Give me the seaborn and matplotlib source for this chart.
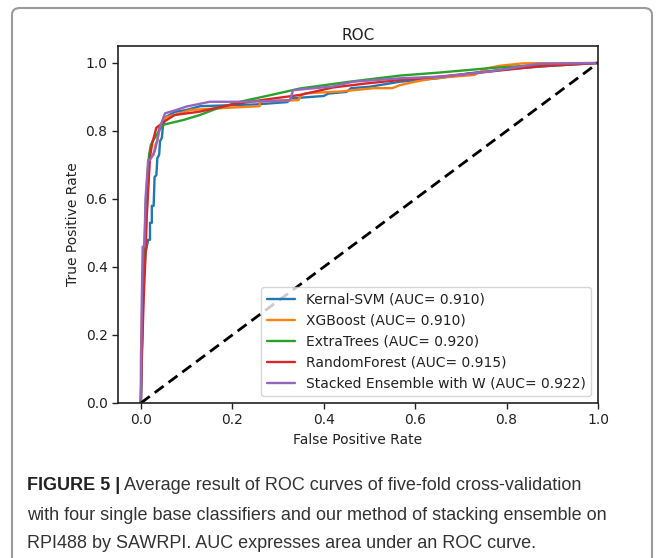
import numpy as np
import pandas as pd
import matplotlib
matplotlib.use("Agg")
import matplotlib.pyplot as plt
import seaborn as sns
from matplotlib.patches import FancyBboxPatch

# ---------------- data ----------------
models = ["Kernal-SVM", "XGBoost", "ExtraTrees", "RandomForest", "Stacked Ensemble with W"]
aucs = [0.910, 0.910, 0.920, 0.915, 0.922]
colors = ["#1f77b4", "#ff7f0e", "#2ca02c", "#d62728", "#9467bd"]

fpr_svm = [0, 0.002, 0.006, 0.010, 0.016, 0.020, 0.020, 0.024, 0.024, 0.028, 0.030, 0.034, 0.036,
           0.040, 0.042, 0.046, 0.048, 0.053, 0.074, 0.10, 0.13, 0.20, 0.25, 0.32, 0.33, 0.40,
           0.41, 0.45, 0.46, 0.50, 0.567, 0.65, 0.72, 0.82, 0.90, 1.0]
tpr_svm = [0, 0.15, 0.35, 0.44, 0.48, 0.48, 0.53, 0.53, 0.58, 0.58, 0.665, 0.67, 0.72,
           0.73, 0.77, 0.78, 0.81, 0.84, 0.856, 0.862, 0.873, 0.876, 0.878, 0.885, 0.896, 0.903,
           0.91, 0.915, 0.926, 0.93, 0.945, 0.955, 0.97, 0.984, 0.992, 1.0]

fpr_xgb = [0, 0, 0.001, 0.006, 0.010, 0.014, 0.018, 0.020, 0.028, 0.032, 0.036, 0.040, 0.045,
           0.055, 0.08, 0.11, 0.16, 0.20, 0.26, 0.26, 0.345, 0.35, 0.36, 0.435, 0.51, 0.55,
           0.567, 0.60, 0.64, 0.73, 0.756, 0.786, 0.836, 1.0]
tpr_xgb = [0, 0.12, 0.20, 0.43, 0.50, 0.60, 0.70, 0.72, 0.73, 0.76, 0.77, 0.81, 0.82,
           0.84, 0.85, 0.862, 0.866, 0.869, 0.873, 0.886, 0.891, 0.905, 0.911, 0.916, 0.926, 0.926,
           0.935, 0.945, 0.955, 0.965, 0.984, 0.992, 0.999, 1.0]

fpr_et = [0, 0.002, 0.006, 0.010, 0.014, 0.018, 0.022, 0.026, 0.035, 0.048, 0.092, 0.129,
          0.166, 0.217, 0.275, 0.348, 0.457, 0.567, 0.654, 0.764, 0.87, 1.0]
tpr_et = [0, 0.15, 0.40, 0.55, 0.66, 0.73, 0.76, 0.77, 0.79, 0.818, 0.832, 0.847,
          0.866, 0.886, 0.903, 0.925, 0.945, 0.963, 0.972, 0.985, 0.994, 1.0]

fpr_rf = [0, 0.002, 0.006, 0.010, 0.013, 0.016, 0.020, 0.025, 0.034, 0.056, 0.074, 0.129,
          0.20, 0.275, 0.348, 0.42, 0.494, 0.567, 0.654, 0.764, 0.87, 1.0]
tpr_rf = [0, 0.12, 0.30, 0.43, 0.55, 0.626, 0.724, 0.765, 0.81, 0.832, 0.847, 0.857,
          0.878, 0.893, 0.906, 0.928, 0.94, 0.95, 0.96, 0.975, 0.99, 1.0]

fpr_st = [0, 0.001, 0.002, 0.004, 0.008, 0.010, 0.016, 0.020, 0.024, 0.031, 0.036, 0.042,
          0.053, 0.078, 0.10, 0.151, 0.239, 0.326, 0.333, 0.42, 0.464, 0.567, 0.66, 0.764,
          0.87, 1.0]
tpr_st = [0, 0.15, 0.30, 0.46, 0.46, 0.597, 0.715, 0.715, 0.724, 0.744, 0.774, 0.813,
          0.852, 0.862, 0.872, 0.886, 0.886, 0.891, 0.92, 0.931, 0.945, 0.955, 0.96, 0.975,
          0.998, 1.0]

diag = [0.0, 1.0]

x_ticks = [0.0, 0.2, 0.4, 0.6, 0.8, 1.0]
y_ticks = [0.0, 0.2, 0.4, 0.6, 0.8, 1.0]

caption_bold = "FIGURE 5 |"
caption_lines = [
    " Average result of ROC curves of five-fold cross-validation",
    "with four single base classifiers and our method of stacking ensemble on",
    "RPI488 by SAWRPI. AUC expresses area under an ROC curve.",
]

# ---------------- plot ----------------
sns.set_style("ticks")
plt.rcParams["font.family"] = ["DejaVu Sans"]

W, H = 664, 558
fig = plt.figure(figsize=(W / 100, H / 100), dpi=100)

# outer frame
frame = FancyBboxPatch((12 / W, -0.05), (652 - 12) / W, (558 - 8) / H + 0.05,
                       boxstyle="round,pad=0,rounding_size=0.012",
                       transform=fig.transFigure, fill=False,
                       edgecolor="#9a9a9a", linewidth=1.5, clip_on=False)
fig.patches.append(frame)

ax = fig.add_axes([118 / W, 1 - 403 / H, (598 - 118) / W, (403 - 46) / H])

series = [(fpr_svm, tpr_svm), (fpr_xgb, tpr_xgb), (fpr_et, tpr_et),
          (fpr_rf, tpr_rf), (fpr_st, tpr_st)]
for (fx, ty), name, auc, c in zip(series, models, aucs, colors):
    df = pd.DataFrame({"fpr": fx, "tpr": ty})
    sns.lineplot(data=df, x="fpr", y="tpr", sort=False, estimator=None, ax=ax,
                 color=c, linewidth=1.7, label=f"{name} (AUC= {auc:.3f})")

ax.plot(diag, diag, color="black", linestyle="--", linewidth=2, dashes=(4, 2.2))

ax.set_xlim(-0.05, 1.0)
ax.set_ylim(0.0, 1.05)
ax.set_xticks(x_ticks)
ax.set_yticks(y_ticks)
ax.tick_params(labelsize=10, length=4, width=1, colors="#222222")
for s in ax.spines.values():
    s.set_color("#222222")
    s.set_linewidth(1.2)
ax.set_xlabel("False Positive Rate", fontsize=10, color="#222222")
ax.set_ylabel("True Positive Rate", fontsize=10, color="#222222")
ax.set_title("ROC", fontsize=11, color="#222222", pad=4)
leg = ax.legend(loc="lower right", fontsize=10, frameon=True, handlelength=2.0,
                borderaxespad=0.5)
leg.get_frame().set_edgecolor("#cccccc")
for t in leg.get_texts():
    t.set_color("#222222")

# caption
cap_font = "Liberation Sans"
fs = 13.0
y1 = 1 - 485 / H
tb = fig.text(27 / W, y1, caption_bold, fontsize=fs, fontweight="bold",
              family=cap_font, va="center", ha="left", color="#222222")
fig.canvas.draw()
bb = tb.get_window_extent()
x_after = bb.x1 / W
fig.text(x_after, y1, caption_lines[0], fontsize=fs, family=cap_font,
         va="center", ha="left", color="#333333")
fig.text(27 / W, 1 - 515 / H, caption_lines[1], fontsize=fs, family=cap_font,
         va="center", ha="left", color="#333333")
fig.text(27 / W, 1 - 543 / H, caption_lines[2], fontsize=fs, family=cap_font,
         va="center", ha="left", color="#333333")

fig.savefig("out.png", dpi=100)
